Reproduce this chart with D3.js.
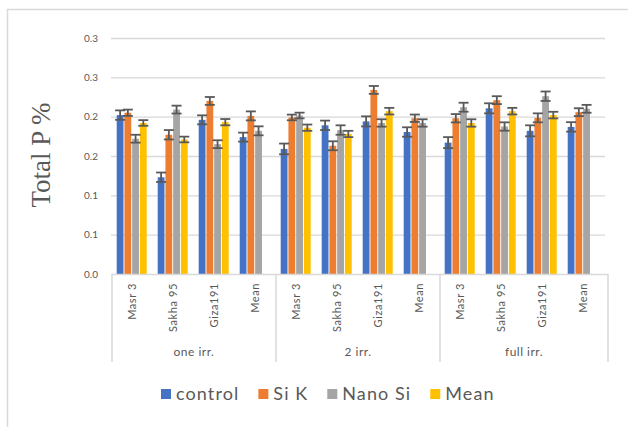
<!DOCTYPE html>
<html>
<head>
<meta charset="utf-8">
<script src="https://cdn.jsdelivr.net/npm/d3@7"></script>
<style>
  html, body { margin: 0; padding: 0; background: #fff; }
  svg { display: block; }
</style>
</head>
<body>
<svg id="chart" width="628" height="427"></svg>
<script>
const categories = ["Masr 3", "Sakha 95", "Giza191", "Mean"];
const groups = ["one irr.", "2 irr.", "full irr."];
const seriesNames = ["control", "Si K", "Nano Si", "Mean"];
const seriesColors = ["#4472C4", "#ED7D31", "#A5A5A5", "#FFC000"];

const controlValues = [0.202, 0.123, 0.196, 0.174, 0.159, 0.189, 0.194, 0.1805, 0.167, 0.2106, 0.182, 0.187];
const siKValues     = [0.205, 0.177, 0.220, 0.201, 0.199, 0.163, 0.234, 0.198, 0.198, 0.221, 0.1985, 0.2057];
const nanoSiValues  = [0.172, 0.209, 0.165, 0.182, 0.2015, 0.183, 0.192, 0.192, 0.212, 0.1875, 0.226, 0.210];
const meanValues    = [0.192, 0.171, 0.193, null, 0.186, 0.178, 0.207, null, 0.192, 0.207, 0.202, null];

const controlErr = [0.006, 0.006, 0.0057, 0.0057, 0.0068, 0.006, 0.0064, 0.006, 0.007, 0.0064, 0.007, 0.006];
const siKErr     = [0.004, 0.006, 0.005, 0.0057, 0.0036, 0.0057, 0.005, 0.0047, 0.0053, 0.005, 0.0057, 0.005];
const nanoSiErr  = [0.005, 0.005, 0.005, 0.0057, 0.0036, 0.006, 0.0047, 0.0047, 0.0057, 0.0053, 0.006, 0.005];
const meanErr    = [0.0036, 0.0036, 0.004, null, 0.004, 0.004, 0.0042, null, 0.0047, 0.0042, 0.0042, null];

const yTickValues = [0, 0.05, 0.1, 0.15, 0.2, 0.25, 0.3];
const yTickLabels = ["0.0", "0.1", "0.1", "0.2", "0.2", "0.3", "0.3"];
const yTitle = "Total P %";

const seriesValues = [controlValues, siKValues, nanoSiValues, meanValues];
const seriesErrors = [controlErr, siKErr, nanoSiErr, meanErr];

const svg = d3.select("#chart");
const textColor = "#595959";
const gridColor = "#d9d9d9";
const font = "Lato, 'Open Sans', sans-serif";

// chart frame
svg.append("line").attr("x1", 7).attr("x2", 628).attr("y1", 9.5).attr("y2", 9.5)
  .attr("stroke", gridColor).attr("stroke-width", 1.5);
svg.append("line").attr("x1", 7.5).attr("x2", 7.5).attr("y1", 9).attr("y2", 427)
  .attr("stroke", gridColor).attr("stroke-width", 1.5);

const plotLeft = 112, plotRight = 604, plotTop = 38, plotBottom = 274;

const slots = [];
groups.forEach((g, gi) => categories.forEach((c, ci) => slots.push(gi * categories.length + ci)));

const x0 = d3.scaleBand().domain(slots).range([plotLeft, plotRight]).padding(0);
const x1 = d3.scaleBand().domain(seriesNames).range([4.7, 34.7]).paddingInner(0.12);
const y = d3.scaleLinear().domain([0, 0.3]).range([plotBottom, plotTop]);

// gridlines
const gridAxis = d3.axisLeft(y).tickValues(yTickValues.slice(1)).tickSize(-(plotRight - plotLeft + 2)).tickFormat("");
const gg = svg.append("g").attr("transform", `translate(${plotLeft - 1},0)`).call(gridAxis);
gg.select(".domain").remove();
gg.selectAll("line").attr("stroke", gridColor).attr("stroke-width", 1.3);

// y tick labels
const yAxis = d3.axisLeft(y).tickValues(yTickValues).tickSize(0).tickPadding(0)
  .tickFormat((d, i) => yTickLabels[i]);
const ya = svg.append("g").attr("transform", `translate(98,0)`).call(yAxis);
ya.select(".domain").remove();
ya.selectAll("text").attr("fill", textColor).style("font-family", font).style("font-size", "10px");

// y title
svg.append("text")
  .attr("transform", "translate(50,155) rotate(-90)")
  .attr("text-anchor", "middle")
  .attr("fill", textColor)
  .style("font-family", "'Liberation Serif', 'Times New Roman', serif")
  .style("font-size", "27px")
  .text(yTitle);

// bars
const barData = [];
seriesNames.forEach((s, si) => {
  slots.forEach((slot, k) => {
    const v = seriesValues[si][k];
    if (v != null) barData.push({ s, si, slot, v, e: seriesErrors[si][k] });
  });
});

svg.append("g").selectAll("rect").data(barData).join("rect")
  .attr("x", d => x0(d.slot) + x1(d.s))
  .attr("y", d => y(d.v))
  .attr("width", x1.bandwidth())
  .attr("height", d => y(0) - y(d.v))
  .attr("fill", d => seriesColors[d.si]);

// error bars
const eg = svg.append("g").attr("stroke", "#595959").attr("stroke-width", 1.8);
barData.forEach(d => {
  const cx = x0(d.slot) + x1(d.s) + x1.bandwidth() / 2;
  const capW = 5;
  eg.append("line").attr("x1", cx).attr("x2", cx).attr("y1", y(d.v + d.e)).attr("y2", y(d.v - d.e));
  eg.append("line").attr("x1", cx - capW).attr("x2", cx + capW).attr("y1", y(d.v + d.e)).attr("y2", y(d.v + d.e));
  eg.append("line").attr("x1", cx - capW).attr("x2", cx + capW).attr("y1", y(d.v - d.e)).attr("y2", y(d.v - d.e));
});

// category axis
const axBottom = 362;
svg.append("line").attr("x1", plotLeft - 1).attr("x2", plotRight + 4).attr("y1", plotBottom + 0.5).attr("y2", plotBottom + 0.5)
  .attr("stroke", gridColor).attr("stroke-width", 1.5);
const sepX = [0, 4, 8, 12].map(i => i < 12 ? x0(i) : plotRight + 4);
svg.append("g").selectAll("line").data(sepX).join("line")
  .attr("x1", d => d).attr("x2", d => d)
  .attr("y1", plotBottom).attr("y2", axBottom)
  .attr("stroke", gridColor).attr("stroke-width", 1.5);

const xAxis = d3.axisBottom(x0).tickSize(0).tickFormat(i => categories[i % categories.length]);
const xa = svg.append("g").attr("transform", `translate(0,${plotBottom})`).call(xAxis);
xa.select(".domain").remove();
xa.selectAll("text")
  .attr("transform", "rotate(-90)")
  .attr("x", -9).attr("y", 0).attr("dy", "0.35em")
  .attr("text-anchor", "end")
  .attr("fill", textColor)
  .style("font-family", font).style("font-size", "11px").style("letter-spacing", "0.6px");

// group labels
svg.append("g").selectAll("text").data(groups).join("text")
  .attr("x", (g, gi) => (x0(gi * 4) + (gi < 2 ? x0(gi * 4 + 4) : plotRight + 4)) / 2)
  .attr("y", 356)
  .attr("text-anchor", "middle")
  .attr("fill", textColor)
  .style("font-family", font).style("font-size", "12px").style("letter-spacing", "0.5px")
  .text(d => d);

// legend
const legend = svg.append("g").attr("transform", "translate(161,394)");
let lx = 0;
seriesNames.forEach((s, i) => {
  const item = legend.append("g").attr("transform", `translate(${lx},0)`);
  item.append("rect").attr("x", 0).attr("y", -5).attr("width", 10).attr("height", 10).attr("fill", seriesColors[i]);
  const t = item.append("text").attr("x", 15).attr("y", 0).attr("dy", "0.36em")
    .attr("fill", textColor).style("font-family", font).style("font-size", "18px")
    .style("letter-spacing", "1.1px").text(s);
  lx += 15 + t.node().getComputedTextLength() + 19;
});
</script>
</body>
</html>
